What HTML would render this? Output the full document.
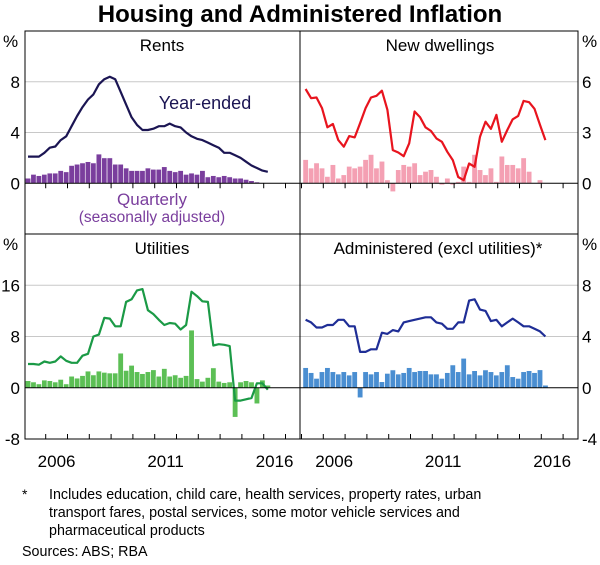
<!DOCTYPE html>
<html><head><meta charset="utf-8"><style>
body{margin:0;background:#fff;}
svg{display:block;font-family:"Liberation Sans",Arial,sans-serif;}
</style></head><body>
<svg id="chart" width="600" height="565" viewBox="0 0 600 565" xmlns="http://www.w3.org/2000/svg">
<text x="300" y="22" text-anchor="middle" font-size="24" font-weight="bold" fill="#000">Housing and Administered Inflation</text>
<g id="grids"></g>
<g id="bars"></g>
<g id="lines"></g>
<g id="frame"></g>
<g id="labels"></g>
<text x="22" y="499" font-size="14">*</text>
<text x="49" y="499" font-size="14.3">Includes education, child care, health services, property rates, urban</text>
<text x="49" y="517" font-size="14.3">transport fares, postal services, some motor vehicle services and</text>
<text x="49" y="535" font-size="14.3">pharmaceutical products</text>
<text x="22" y="556" font-size="14.3">Sources:  ABS; RBA</text>
</svg>
<script>
const START = 2005.19, STEP = 0.25;
const rentsLine = [2.1,2.1,2.1,2.4,2.8,2.9,3.4,3.7,4.5,5.3,6.0,6.6,7.0,7.8,8.2,8.4,8.2,7.2,6.2,5.2,4.6,4.2,4.2,4.3,4.5,4.5,4.7,4.5,4.4,4.0,3.7,3.5,3.4,3.2,3.0,2.8,2.4,2.4,2.2,2.0,1.7,1.4,1.2,1.0,0.9];
const rentsBars = [0.4,0.7,0.6,0.7,0.8,0.8,1.0,0.9,1.4,1.5,1.6,1.7,1.6,2.3,2.0,2.0,1.5,1.5,1.2,1.0,1.0,1.0,1.2,1.1,1.1,1.3,1.0,0.9,1.0,0.7,0.8,0.7,1.0,0.5,0.6,0.5,0.6,0.5,0.4,0.4,0.3,0.2,0.1,0.05,0.05];
const dwellLine = [5.57,5.03,5.07,4.44,3.31,3.5,2.55,2.16,2.79,2.71,3.55,4.44,5.07,5.17,5.47,4.34,1.96,1.82,1.6,2.36,4.24,3.9,3.31,3.09,2.65,2.45,1.86,1.37,0.37,0.18,1.17,0.97,2.75,3.64,3.21,4.04,2.45,3.15,3.78,3.98,4.87,4.79,4.4,3.45,2.55];
const dwellBars = [1.4,0.9,1.2,0.9,0.4,1.1,0.3,0.5,1.0,0.9,1.0,1.4,1.7,0.9,1.3,0.2,-0.5,0.8,1.1,1.0,1.2,0.5,0.7,0.8,0.4,-0.1,0.3,-0.1,0.1,1.0,0.1,1.7,0.8,0.5,0.9,0.1,1.6,1.1,1.1,0.9,1.5,0.7,0.0,0.2,0.0];
const utilLine = [3.7,3.7,3.6,4.1,3.9,4.1,4.9,4.2,3.9,3.9,5.0,5.3,8.0,8.3,10.9,10.8,9.6,9.6,13.4,13.8,15.2,15.4,12.1,11.5,10.6,9.8,10.1,10.0,9.1,9.8,15.0,14.3,13.5,13.4,6.6,6.8,6.7,6.5,-2.0,-2.0,-1.8,-1.6,0.7,0.7,-0.3];
const utilBars = [1.1,0.9,0.6,1.2,1.1,0.9,1.3,0.6,1.8,1.5,1.9,2.6,2.0,2.6,2.4,2.3,2.3,5.4,2.7,3.5,2.5,2.2,2.5,2.8,1.8,3.0,1.8,2.0,1.6,1.9,9.0,1.4,1.0,1.6,3.1,1.0,0.8,0.9,-4.6,0.9,1.1,0.9,-2.5,1.2,0.4];
const adminLine = [5.3,5.1,4.7,4.7,4.9,4.9,5.3,5.3,4.8,4.8,2.8,2.8,3.0,3.0,4.3,4.2,4.5,4.4,5.1,5.2,5.3,5.4,5.5,5.5,5.1,5.0,4.6,4.6,5.1,5.1,6.8,6.9,6.1,6.0,5.2,5.3,4.8,5.1,5.4,5.1,4.8,4.8,4.6,4.4,4.0];
const adminBars = [1.57,1.18,0.73,1.25,1.57,1.25,1.07,1.25,0.99,1.25,-0.78,1.25,1.07,1.25,0.47,1.12,1.39,1.07,1.18,1.57,1.25,1.33,1.33,1.07,1.07,0.73,1.18,1.78,1.25,2.3,1.07,1.33,0.99,1.39,1.25,0.99,1.25,1.78,0.86,0.73,1.25,1.33,1.18,1.4,0.2];
const yearLabels = [2006, 2011, 2016];
const ticksTopLeft = [0,4,8], ticksTopRight = [0,3,6], ticksBotLeft = [-8,0,8,16], ticksBotRight = [-4,0,4,8];

const NS = "http://www.w3.org/2000/svg";
function mk(tag, attrs, parent){const e=document.createElementNS(NS,tag);for(const k in attrs)e.setAttribute(k,attrs[k]);document.getElementById(parent).appendChild(e);return e;}
const YW = 21.8;
const panels = [
 {name:"rents", x0:25, x1:300, y0:31, y1:234, x2006:45.7, vmin:-4, vmax:12, ticks:ticksTopLeft, side:"left", line:rentsLine, bars:rentsBars, lc:"#1b1553", bc:"#7a3e9d", title:"Rents", tx:162, showYears:false},
 {name:"new-dwellings", x0:300, x1:578, y0:31, y1:234, x2006:323.3, vmin:-3, vmax:9, ticks:ticksTopRight, side:"right", line:dwellLine, bars:dwellBars, lc:"#e8141e", bc:"#f4a0b3", title:"New dwellings", tx:440, showYears:false},
 {name:"utilities", x0:25, x1:300, y0:234, y1:439, x2006:45.7, vmin:-8, vmax:24, ticks:ticksBotLeft, side:"left", line:utilLine, bars:utilBars, lc:"#1b9a46", bc:"#5cbf55", title:"Utilities", tx:162, showYears:true},
 {name:"administered", x0:300, x1:578, y0:234, y1:439, x2006:323.3, vmin:-4, vmax:12, ticks:ticksBotRight, side:"right", line:adminLine, bars:adminBars, lc:"#1f2e96", bc:"#4a8ed1", title:"Administered (excl utilities)*", tx:438, showYears:true}
];
panels.forEach(p=>{
  const xs = t => p.x2006 + (t-2006)*YW;
  const ys = v => p.y1 - (v-p.vmin)/(p.vmax-p.vmin)*(p.y1-p.y0);
  p.ticks.forEach(v=>{
    if(v===0) return;
    if(ys(v)<=p.y0+1||ys(v)>=p.y1-1) return;
    const g=mk("line",{x1:p.x0,x2:p.x1,y1:ys(v),y2:ys(v),stroke:"#c8c8c8","stroke-width":1},"grids");
    
    
  });
  const bw = STEP*YW;
  p.bars.forEach((v,i)=>{
    const t = START + i*STEP;
    const cx = xs(t);
    const y0 = ys(0), yv = ys(v);
    const r=mk("rect",{x:cx-bw/2,y:Math.min(y0,yv),width:bw,height:Math.max(Math.abs(yv-y0),0.3),fill:p.bc,stroke:"#fff","stroke-width":0.6},"bars");
    
    
  });
  const z=mk("line",{x1:p.x0,x2:p.x1,y1:ys(0),y2:ys(0),stroke:"#000","stroke-width":1},"frame");
  
  
  const pts = p.line.map((v,i)=>xs(START+i*STEP).toFixed(1)+","+ys(v).toFixed(1)).join(" ");
  const pl=mk("polyline",{points:pts,fill:"none",stroke:p.lc,"stroke-width":2.2,"stroke-linejoin":"round"},"lines");
  
  
  for(let yr=2005; yr<=2018; yr++){
    const x = xs(yr);
    if(x<=p.x0+1||x>=p.x1-1) continue;
    const ty = p.showYears ? p.y1 : ys(0);
    const tk=mk("line",{x1:x,x2:x,y1:ty,y2:p.showYears?ty-5:ty+5,stroke:"#000","stroke-width":1},"frame");
    
    
  }
  if(p.showYears){
    yearLabels.forEach(yr=>{
      const tx=mk("text",{x:xs(yr+0.5),y:467,"text-anchor":"middle","font-size":17},"labels");
      tx.textContent=yr;
      
      
    });
  }
  p.ticks.forEach(v=>{
    const lx = p.side==="left" ? 20 : 582;
    const t=mk("text",{x:lx,y:ys(v)+6,"text-anchor":p.side==="left"?"end":"start","font-size":17},"labels");
    t.textContent=v;
    
    
  });
  const pc=mk("text",{x:p.side==="left"?3:582,y:p.y0+16,"font-size":17},"labels");
  pc.textContent="%";
  
  
  const tt=mk("text",{x:p.tx,y:p.y0+20,"text-anchor":"middle","font-size":17},"labels");
  tt.textContent=p.title;
  
  
});
const fr=mk("rect",{x:25,y:31,width:553,height:408,fill:"none",stroke:"#000","stroke-width":1},"frame");


const vd=mk("line",{x1:300,x2:300,y1:31,y2:439,stroke:"#000","stroke-width":1},"frame");


const hd=mk("line",{x1:25,x2:578,y1:234,y2:234,stroke:"#000","stroke-width":1},"frame");


const a1=mk("text",{x:205,y:109,"text-anchor":"middle","font-size":18,fill:"#1b1553"},"labels");
a1.textContent="Year-ended";


const a2=mk("text",{x:152,y:205,"text-anchor":"middle","font-size":17,fill:"#7a3e9d"},"labels");
a2.textContent="Quarterly";


const a3=mk("text",{x:152,y:222,"text-anchor":"middle","font-size":15.5,fill:"#7a3e9d"},"labels");
a3.textContent="(seasonally adjusted)";


</script>
</body></html>
